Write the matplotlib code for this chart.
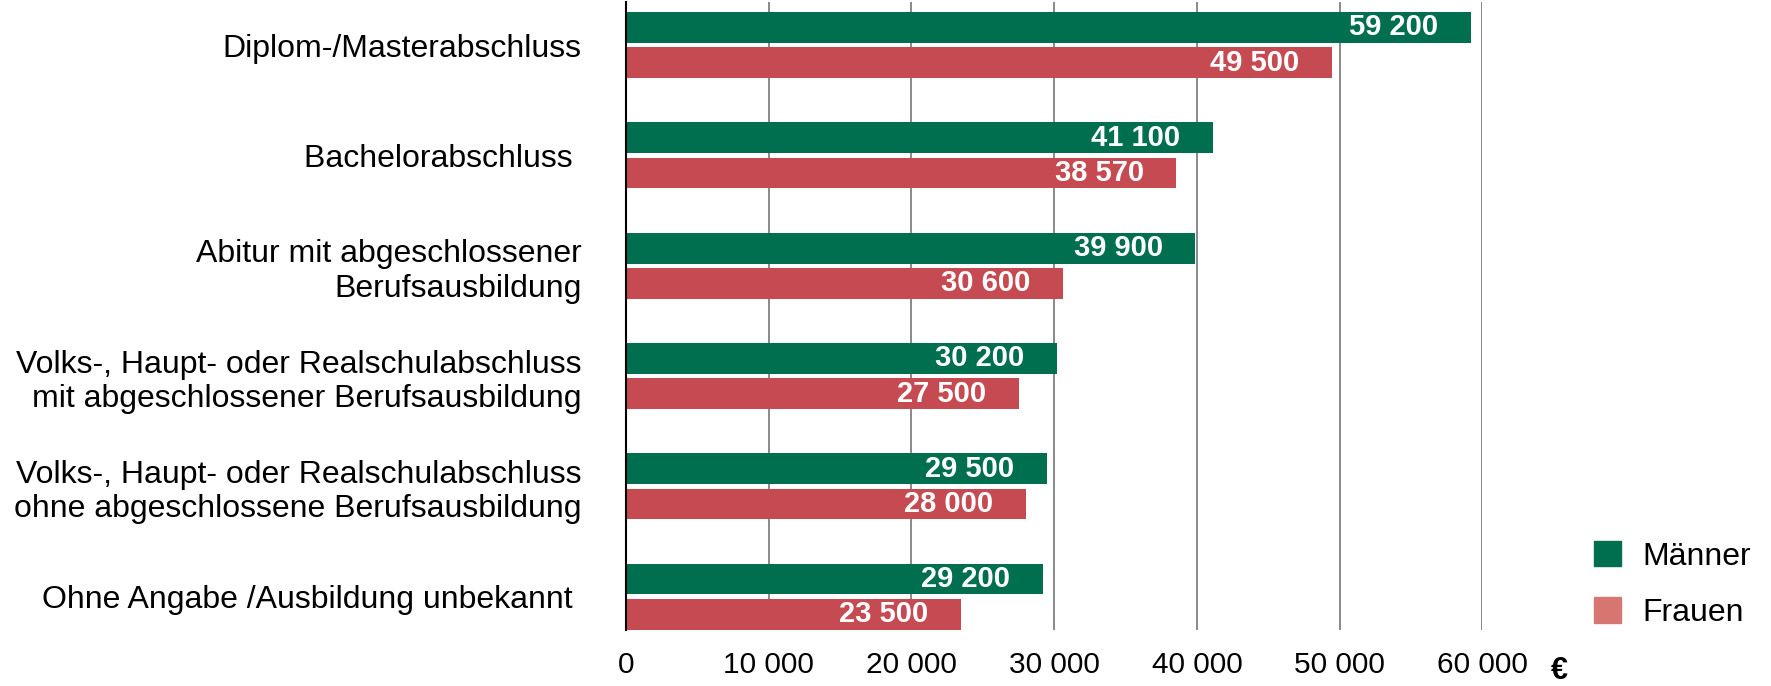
import matplotlib
matplotlib.use("Agg")
import matplotlib.pyplot as plt
from matplotlib.patches import Patch
import numpy as np

plt.rcParams["font.family"] = ["Liberation Sans", "DejaVu Sans"]

categories = [
    "Diplom-/Masterabschluss",
    "Bachelorabschluss ",
    "Abitur mit abgeschlossener\nBerufsausbildung",
    "Volks-, Haupt- oder Realschulabschluss\nmit abgeschlossener Berufsausbildung",
    "Volks-, Haupt- oder Realschulabschluss\nohne abgeschlossene Berufsausbildung",
    "Ohne Angabe /Ausbildung unbekannt ",
]
maenner = [59200, 41100, 39900, 30200, 29500, 29200]
frauen = [49500, 38570, 30600, 27500, 28000, 23500]
xticks = [0, 10000, 20000, 30000, 40000, 50000, 60000]

GREEN = "#006f4f"
RED = "#c64a51"
RED_LEGEND = "#d77671"
GRID = "#808080"


def fmt(v):
    return f"{v:,}".replace(",", " ")


fig = plt.figure(figsize=(17.71, 6.86), dpi=100)
ax = fig.add_axes([0.3535, 0.082, 0.837 - 0.3535, 0.915])

n = len(categories)
centers = np.arange(n)[::-1].astype(float)
h = 0.28
off = 0.16

ax.barh(centers + off, maenner, height=h, color=GREEN, zorder=2)
ax.barh(centers - off, frauen, height=h, color=RED, zorder=2)

# value labels inside the bar end
for c, v in zip(centers + off, maenner):
    ax.text(v - 2300, c, fmt(v), ha="right", va="center", color="white",
            fontsize=21, fontweight="bold", zorder=3)
for c, v in zip(centers - off, frauen):
    ax.text(v - 2300, c, fmt(v), ha="right", va="center", color="white",
            fontsize=21, fontweight="bold", zorder=3)

ax.set_xlim(0, 60000)
ax.set_ylim(-0.30, 5.39)
ax.set_xticks(xticks)
ax.set_xticklabels([fmt(t) for t in xticks], fontsize=21.5)
ax.set_yticks(centers)
ax.set_yticklabels(categories, fontsize=23)
ax.tick_params(axis="x", length=0, pad=15)
ax.tick_params(axis="y", length=0, pad=32)
for lbl in ax.get_yticklabels():
    if "\n" not in lbl.get_text():
        lbl.set_va("center_baseline")

ax.grid(axis="x", color=GRID, linewidth=1.3, zorder=0)
ax.set_axisbelow(True)
for s in ["top", "right", "bottom"]:
    ax.spines[s].set_visible(False)
ax.spines["left"].set_color("black")
ax.spines["left"].set_linewidth(1.5)
ax.spines["left"].set_zorder(4)

ax.annotate("€", xy=(60000, 0), xycoords=("data", "axes fraction"),
            xytext=(49, -30), textcoords="offset points",
            ha="left", va="center", fontsize=22, fontweight="bold")

handles = [Patch(color=GREEN), Patch(color=RED_LEGEND)]
fig.legend(handles, ["Männer", "Frauen"], loc="center left",
           bbox_to_anchor=(0.9, 0.148), frameon=False, fontsize=23,
           handlelength=0.84, handleheight=0.84, handletextpad=0.69,
           labelspacing=0.8, borderpad=0, borderaxespad=0)

fig.savefig("out.png", dpi=100)
